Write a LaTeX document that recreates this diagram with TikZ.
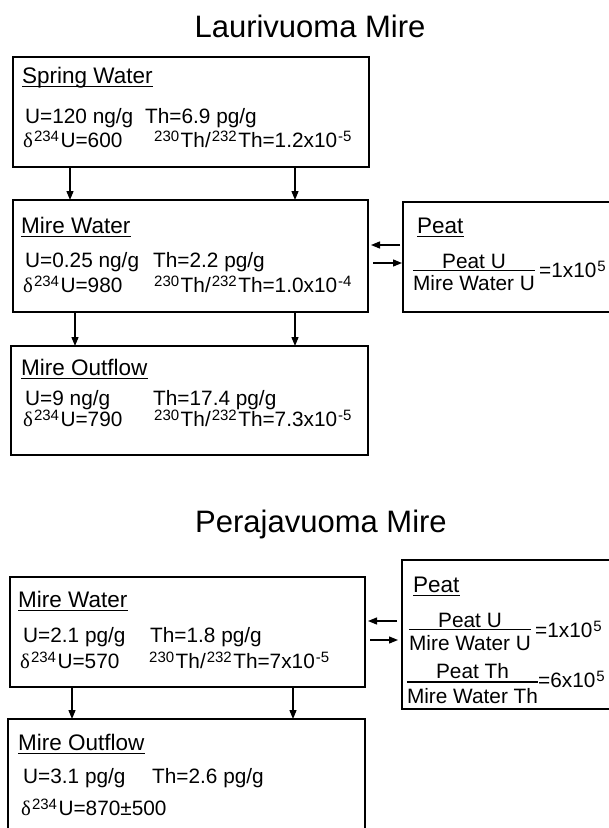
\documentclass[tikz,border=0pt]{standalone}
\usepackage{fontspec}
\setmainfont{Liberation Sans}
\newfontfamily\grkfont{Liberation Serif}
\usetikzlibrary{arrows.meta}
\newcommand\sps[1]{\kern1pt\raisebox{6pt}{\fontsize{15}{15}\selectfont #1}\kern1.5pt}
\newcommand\dlt{{\grkfont δ}}
\begin{document}
\begin{tikzpicture}[x=1pt,y=-1pt,
  box/.style={draw, line width=1.6pt, anchor=north west, inner sep=0, outer sep=0},
  ttl/.style={anchor=base, inner sep=0, font=\fontsize{31}{31}\selectfont},
  hd/.style={anchor=base west, inner sep=0, font=\fontsize{22.5}{22.5}\selectfont},
  tx/.style={anchor=base west, inner sep=0, font=\fontsize{20.8}{20.8}\selectfont},
  ctx/.style={anchor=base, inner sep=0, font=\fontsize{20.8}{20.8}\selectfont},
  ul/.style={line width=1.2pt},
  fbar/.style={line width=1.2pt},
  arr/.style={line width=1.3pt, -{Triangle[length=9pt,width=7pt]}}
]
\useasboundingbox (0,0) rectangle (609,828);

% titles
\node[ttl] (title1) at (310,37) {Laurivuoma Mire};
\node[ttl] (title2) at (321,532) {Perajavuoma Mire};

% ---------- Laurivuoma ----------
\node[box, minimum width=356pt, minimum height=110pt] (sw) at (13,57) {};
\node[hd] (swh) at (22,83) {Spring Water};
\draw[ul] ([yshift=-3.5pt]swh.base west) -- ([yshift=-3.5pt]swh.base east);
\node[tx] (sw1) at (25,123) {U=120 ng/g};
\node[tx] (sw2) at (145,123) {Th=6.9 pg/g};
\node[tx] (sw3) at (23,147) {\dlt\sps{234}U=600};
\node[tx] (sw4) at (153,147) {\sps{230}Th/\sps{232}Th=1.2x10\sps{-5}};

\node[box, minimum width=355pt, minimum height=112pt] (mw1) at (13,200) {};
\node[hd] (mw1h) at (21,233) {Mire Water};
\draw[ul] ([yshift=-3.5pt]mw1h.base west) -- ([yshift=-3.5pt]mw1h.base east);
\node[tx] (mw11) at (25,267) {U=0.25 ng/g};
\node[tx] (mw12) at (153,267) {Th=2.2 pg/g};
\node[tx] (mw13) at (23,292) {\dlt\sps{234}U=980};
\node[tx] (mw14) at (153,292) {\sps{230}Th/\sps{232}Th=1.0x10\sps{-4}};

\node[box, minimum width=357pt, minimum height=109pt] (mo1) at (11,346) {};
\node[hd] (mo1h) at (21,375) {Mire Outflow};
\draw[ul] ([yshift=-3.5pt]mo1h.base west) -- ([yshift=-3.5pt]mo1h.base east);
\node[tx] (mo11) at (25,405) {U=9 ng/g};
\node[tx] (mo12) at (153,405) {Th=17.4 pg/g};
\node[tx] (mo13) at (23,426) {\dlt\sps{234}U=790};
\node[tx] (mo14) at (153,426) {\sps{230}Th/\sps{232}Th=7.3x10\sps{-5}};

\node[box, minimum width=220pt, minimum height=110pt] (pt1) at (403,202) {};
\node[hd] (pt1h) at (417,233) {Peat};
\draw[ul] ([yshift=-3.5pt]pt1h.base west) -- ([yshift=-3.5pt]pt1h.base east);
\node[ctx] (pt1n) at (474,268) {Peat U};
\node[ctx] (pt1d) at (474,290) {Mire Water U};
\coordinate (b1) at (0,270.5);
\draw[fbar] (pt1d.west |- b1) -- (pt1d.east |- b1);
\node[tx] (pt1e) at (539,277) {=1x10\sps{5}};

\coordinate (xa) at (70,0);
\coordinate (xb) at (295,0);
\coordinate (xc) at (75,0);
\coordinate (ya) at (0,245);
\coordinate (yb) at (0,263);
\draw[arr] (sw.south -| xa) -- (mw1.north -| xa);
\draw[arr] (sw.south -| xb) -- (mw1.north -| xb);
\draw[arr] (mw1.south -| xc) -- (mo1.north -| xc);
\draw[arr] (mw1.south -| xb) -- (mo1.north -| xb);
\draw[arr, shorten <=3pt, shorten >=3pt] (pt1.west |- ya) -- (mw1.east |- ya);
\draw[arr, shorten <=5pt, shorten >=1pt] (mw1.east |- yb) -- (pt1.west |- yb);

% ---------- Perajavuoma ----------
\node[box, minimum width=355pt, minimum height=110pt] (mw2) at (10,577) {};
\node[hd] (mw2h) at (18,607) {Mire Water};
\draw[ul] ([yshift=-3.5pt]mw2h.base west) -- ([yshift=-3.5pt]mw2h.base east);
\node[tx] (mw21) at (23,642) {U=2.1 pg/g};
\node[tx] (mw22) at (150,642) {Th=1.8 pg/g};
\node[tx] (mw23) at (20,668) {\dlt\sps{234}U=570};
\node[tx] (mw24) at (148,668) {\sps{230}Th/\sps{232}Th=7x10\sps{-5}};

\node[box, minimum width=357pt, minimum height=140pt] (mo2) at (8,719) {};
\node[hd] (mo2h) at (18,750) {Mire Outflow};
\draw[ul] ([yshift=-3.5pt]mo2h.base west) -- ([yshift=-3.5pt]mo2h.base east);
\node[tx] (mo21) at (23,783) {U=3.1 pg/g};
\node[tx] (mo22) at (152,783) {Th=2.6 pg/g};
\node[tx] (mo23) at (21,815) {\dlt\sps{234}U=870±500};

\node[box, minimum width=220pt, minimum height=149pt] (pt2) at (402,560) {};
\node[hd] (pt2h) at (413,592) {Peat};
\draw[ul] ([yshift=-3.5pt]pt2h.base west) -- ([yshift=-3.5pt]pt2h.base east);
\node[ctx] (pt2n1) at (470,627) {Peat U};
\node[ctx] (pt2d1) at (470,650) {Mire Water U};
\coordinate (b2) at (0,629.5);
\draw[fbar] (pt2d1.west |- b2) -- (pt2d1.east |- b2);
\node[tx] (pt2e1) at (535,637) {=1x10\sps{5}};
\node[ctx] (pt2n2) at (472.5,678) {Peat Th};
\node[ctx] (pt2d2) at (472.5,703) {Mire Water Th};
\coordinate (b3) at (0,682);
\draw[fbar] (pt2d2.west |- b3) -- (pt2d2.east |- b3);
\node[tx] (pt2e2) at (538,687) {=6x10\sps{5}};

\coordinate (xd) at (72,0);
\coordinate (xe) at (293,0);
\coordinate (yc) at (0,621);
\coordinate (yd) at (0,640);
\draw[arr] (mw2.south -| xd) -- (mo2.north -| xd);
\draw[arr] (mw2.south -| xe) -- (mo2.north -| xe);
\draw[arr, shorten <=5pt, shorten >=3pt] (pt2.west |- yc) -- (mw2.east |- yc);
\draw[arr, shorten <=5pt, shorten >=4pt] (mw2.east |- yd) -- (pt2.west |- yd);
\end{tikzpicture}
\end{document}
